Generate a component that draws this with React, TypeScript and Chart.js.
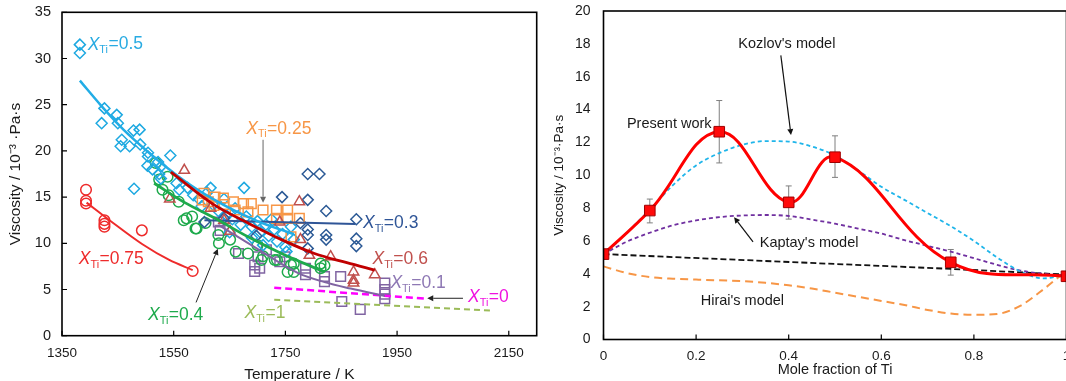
import { useEffect, useRef } from 'react';
import { Chart, registerables } from 'chart.js';

Chart.register(...registerables);

const FONT = "'Liberation Sans', Arial, Helvetica, sans-serif";
const TXT = '#1a1a1a';

// ---------------- Left panel data ----------------
const tempTicks = [1350, 1550, 1750, 1950, 2150];
const viscTicksLeft = [0, 5, 10, 15, 20, 25, 30, 35];

// X_Ti = 0.5 (diamonds)
const x050Temp = [1382, 1382, 1421, 1426, 1448, 1450, 1455, 1457, 1471, 1478, 1479, 1489, 1490, 1503, 1504, 1504, 1512, 1522, 1524, 1527, 1527, 1544, 1555, 1560, 1575, 1585, 1595, 1600, 1610, 1616, 1620, 1630, 1640, 1645, 1650, 1655, 1660, 1670, 1676, 1680, 1690, 1690, 1700, 1705, 1710, 1715, 1720, 1725, 1730, 1735, 1745, 1750, 1752, 1760, 1765];
const x050Visc = [31.5, 30.6, 23.0, 24.6, 23.9, 23.0, 20.5, 21.2, 20.5, 22.2, 15.9, 22.3, 20.7, 18.4, 19.8, 19.4, 18.0, 18.8, 17.5, 18.3, 17.0, 19.5, 16.5, 15.8, 16.0, 15.2, 14.8, 14.0, 15.5, 16.0, 14.2, 13.5, 14.8, 13.0, 11.2, 12.6, 13.8, 12.0, 16.0, 12.9, 11.8, 10.6, 12.4, 11.2, 9.8, 12.0, 10.8, 12.6, 11.5, 10.2, 11.0, 9.6, 9.1, 11.8, 10.4];
const x050FitTemp = [1382, 1420, 1460, 1500, 1540, 1580, 1620, 1660, 1700, 1740, 1765];
const x050FitVisc = [27.6, 24.9, 22.3, 20.1, 18.1, 16.3, 14.8, 13.5, 12.4, 11.5, 11.0];

// X_Ti = 0.75 (circles)
const x075Temp = [1393, 1393, 1393, 1426, 1426, 1426, 1493, 1584];
const x075Visc = [15.8, 14.6, 14.3, 12.5, 12.1, 11.8, 11.4, 7.0];
const x075FitTemp = [1394, 1435, 1494, 1542, 1584];
const x075FitVisc = [14.4, 12.5, 9.9, 8.2, 7.1];

// X_Ti = 0.4 (circles)
const x040Temp = [1518, 1524, 1530, 1539, 1541, 1559, 1568, 1573, 1583, 1589, 1591, 1607, 1630, 1631, 1651, 1661, 1683, 1700, 1707, 1710, 1731, 1735, 1754, 1760, 1765, 1765, 1813, 1813, 1820];
const x040Visc = [18.7, 16.9, 15.8, 17.2, 15.2, 14.5, 12.5, 12.7, 12.9, 11.6, 11.6, 12.2, 10.9, 10.0, 10.4, 9.1, 8.9, 9.8, 8.2, 8.6, 8.2, 8.2, 6.9, 7.65, 7.8, 6.9, 7.8, 7.3, 7.6];
const x040FitTemp = [1515, 1570, 1624, 1683, 1743, 1820];
const x040FitVisc = [16.5, 14.4, 12.7, 10.7, 8.9, 6.9];

// X_Ti = 0.6 (triangles)
const x060Temp = [1543, 1569, 1616, 1640, 1651, 1740, 1775, 1777, 1793, 1831, 1872, 1872, 1872, 1910];
const x060Visc = [14.8, 17.9, 13.8, 12.5, 11.3, 12.3, 14.5, 10.4, 8.7, 8.55, 6.9, 6.0, 5.7, 6.6];
const x060FitTemp = [1545, 1624, 1683, 1743, 1802, 1860, 1910];
const x060FitVisc = [17.7, 14.1, 12.2, 10.4, 8.9, 7.9, 7.1];

// X_Ti = 0.3 (diamonds)
const x030Temp = [1605, 1640, 1698, 1744, 1777, 1790, 1790, 1790, 1790, 1790, 1811, 1823, 1823, 1823, 1877, 1877, 1877];
const x030Visc = [12.3, 12.7, 10.8, 15.0, 12.2, 17.5, 14.7, 11.5, 10.9, 9.45, 17.5, 13.5, 10.9, 10.4, 12.6, 10.5, 9.7];
const x030FitTemp = [1605, 1875];
const x030FitVisc = [12.5, 12.1];

// X_Ti = 0.25 (squares)
const x025Temp = [1601, 1604, 1612, 1622, 1624, 1639, 1640, 1657, 1660, 1675, 1683, 1689, 1710, 1734, 1734, 1754, 1754, 1760, 1775];
const x025Visc = [14.7, 15.4, 14.5, 14.1, 15.0, 14.9, 14.2, 14.5, 13.6, 14.3, 13.4, 14.3, 13.6, 13.6, 12.7, 13.6, 12.7, 10.7, 12.7];

// X_Ti = 0.1 (squares)
const x010Temp = [1630, 1633, 1666, 1695, 1695, 1701, 1704, 1716, 1740, 1749, 1786, 1786, 1820, 1820, 1849, 1851, 1884, 1928, 1928, 1928, 1928];
const x010Visc = [12.3, 11.4, 8.9, 7.65, 6.95, 8.55, 7.3, 9.3, 8.0, 8.55, 7.3, 6.6, 6.4, 5.85, 6.4, 3.7, 2.85, 5.7, 5.0, 4.5, 4.0];
const x010FitTemp = [1630, 1700, 1772, 1820, 1867, 1928];
const x010FitVisc = [12.0, 9.4, 6.8, 5.8, 5.1, 4.3];

// X_Ti = 0 and X_Ti = 1 (dashed)
const x000Temp = [1730, 2003];
const x000Visc = [5.2, 4.0];
const x100Temp = [1730, 2122];
const x100Visc = [3.9, 2.7];

// ---------------- Right panel data ----------------
const moleTicks = [0, 0.2, 0.4, 0.6, 0.8, 1];
const viscTicksRight = [0, 2, 4, 6, 8, 10, 12, 14, 16, 18, 20];

const presentX = [0, 0.1, 0.25, 0.4, 0.5, 0.75, 1.0];
const presentV = [5.2, 7.85, 12.65, 8.35, 11.1, 4.7, 3.85];
const presentErrHigh = [5.2, 8.55, 14.55, 9.35, 12.4, 5.48, 3.85];
const presentErrLow = [5.2, 7.1, 10.75, 7.33, 9.87, 3.92, 3.85];

const modelX = [0, 0.05, 0.1, 0.15, 0.2, 0.25, 0.3, 0.35, 0.4, 0.45, 0.5, 0.55, 0.6, 0.65, 0.7, 0.75, 0.8, 0.85, 0.9, 0.95, 1.0];
const kozlovV = [5.1, 6.5, 7.9, 9.4, 10.6, 11.35, 11.85, 12.08, 12.05, 11.75, 11.2, 10.3, 9.3, 8.5, 7.7, 6.9, 6.0, 5.0, 4.15, 3.72, 3.95];
const kaptayV = [5.2, 5.95, 6.5, 6.95, 7.25, 7.45, 7.55, 7.58, 7.52, 7.3, 7.05, 6.75, 6.45, 6.05, 5.7, 5.35, 4.95, 4.55, 4.2, 4.0, 3.9];
const hiraiV = [4.45, 4.05, 3.8, 3.7, 3.65, 3.6, 3.55, 3.45, 3.3, 3.1, 2.85, 2.6, 2.35, 2.1, 1.8, 1.58, 1.5, 1.55, 2.05, 3.05, 4.2];
const idealX = [0, 0.25, 0.5, 0.75, 1.0];
const idealV = [5.2, 4.9, 4.6, 4.3, 3.95];

// ---------------- helpers ----------------
const pts = (xs: number[], ys: number[]) => xs.map((x, i) => ({ x, y: ys[i] }));

const markers = (data: any[], style: string, color: string, r: number) => ({
  data,
  showLine: false,
  pointStyle: style,
  pointRadius: r,
  pointBorderColor: color,
  pointBackgroundColor: 'rgba(0,0,0,0)',
  pointBorderWidth: 1.5,
  borderColor: color,
  backgroundColor: 'rgba(0,0,0,0)',
});

const fit = (data: any[], color: string, width: number, dash: number[] = [], tension = 0.4, mono = false) => ({
  data,
  showLine: true,
  pointRadius: 0,
  borderColor: color,
  backgroundColor: color,
  borderWidth: width,
  borderDash: dash,
  tension,
  cubicInterpolationMode: mono ? 'monotone' : 'default',
  fill: false,
});

function drawXTi(ctx: CanvasRenderingContext2D, x: number, y: number, val: string, color: string, size: number) {
  ctx.save();
  ctx.fillStyle = color;
  ctx.textBaseline = 'middle';
  ctx.textAlign = 'left';
  ctx.font = `italic ${size}px ${FONT}`;
  ctx.fillText('X', x, y);
  let cx = x + ctx.measureText('X').width;
  const sub = size * 0.62;
  ctx.font = `${sub}px ${FONT}`;
  ctx.fillText('Ti', cx, y + size * 0.33);
  cx += ctx.measureText('Ti').width + 0.5;
  ctx.font = `${size}px ${FONT}`;
  ctx.fillText('=' + val, cx, y);
  ctx.restore();
}

function drawArrow(ctx: CanvasRenderingContext2D, x1: number, y1: number, x2: number, y2: number, color: string, width: number) {
  ctx.save();
  ctx.strokeStyle = color;
  ctx.fillStyle = color;
  ctx.lineWidth = width;
  const a = Math.atan2(y2 - y1, x2 - x1);
  const hl = 6;
  const hw = 3;
  const bx = x2 - hl * Math.cos(a);
  const by = y2 - hl * Math.sin(a);
  ctx.beginPath();
  ctx.moveTo(x1, y1);
  ctx.lineTo(bx, by);
  ctx.stroke();
  ctx.beginPath();
  ctx.moveTo(x2, y2);
  ctx.lineTo(bx + hw * Math.sin(a), by - hw * Math.cos(a));
  ctx.lineTo(bx - hw * Math.sin(a), by + hw * Math.cos(a));
  ctx.closePath();
  ctx.fill();
  ctx.restore();
}

function drawFrame(chart: any, xTicks: number[], yTicks: number[]) {
  const { ctx, chartArea: a, scales } = chart;
  ctx.save();
  ctx.strokeStyle = '#000';
  ctx.lineWidth = 1.6;
  ctx.strokeRect(a.left, a.top, a.right - a.left, a.bottom - a.top);
  ctx.lineWidth = 1.2;
  ctx.beginPath();
  xTicks.forEach((v) => {
    const px = scales.x.getPixelForValue(v);
    ctx.moveTo(px, a.bottom);
    ctx.lineTo(px, a.bottom - 5);
  });
  yTicks.forEach((v) => {
    const py = scales.y.getPixelForValue(v);
    ctx.moveTo(a.left, py);
    ctx.lineTo(a.left + 5, py);
  });
  ctx.stroke();
  ctx.restore();
}

const fixAxis = (w?: number, h?: number) => (s: any) => {
  if (w !== undefined) s.width = w;
  if (h !== undefined) s.height = h;
  s.paddingTop = 0;
  s.paddingBottom = 0;
  s.paddingLeft = 0;
  s.paddingRight = 0;
};

// annotation settings (data coordinates)
const leftLabels = [
  { val: '0.5', t: 1396, v: 31.5, color: '#29ABE2' },
  { val: '0.25', t: 1680, v: 22.4, color: '#F79646' },
  { val: '0.3', t: 1889, v: 12.2, color: '#2F5597' },
  { val: '0.6', t: 1906, v: 8.3, color: '#C0504D' },
  { val: '0.1', t: 1938, v: 5.7, color: '#8E78B4' },
  { val: '0', t: 2077, v: 4.2, color: '#F012E0' },
  { val: '1', t: 1677, v: 2.4, color: '#9BBB59' },
  { val: '0.4', t: 1504, v: 2.2, color: '#1EAA4C' },
  { val: '0.75', t: 1380, v: 8.3, color: '#EE2B2B' },
];
const leftArrows = [
  { t1: 1710, v1: 21.2, t2: 1710, v2: 14.4, color: '#666' },
  { t1: 1590, v1: 3.6, t2: 1629, v2: 9.4, color: '#222' },
  { t1: 2068, v1: 4.05, t2: 2004, v2: 4.05, color: '#222' },
];

const rightTexts = [
  { text: "Kozlov's model", x: 0.396, v: 18.0 },
  { text: 'Present work', x: 0.142, v: 13.1 },
  { text: "Kaptay's model", x: 0.444, v: 5.85 },
  { text: "Hirai's model", x: 0.3, v: 2.36 },
];
const rightArrows = [
  { x1: 0.383, v1: 17.3, x2: 0.405, v2: 12.45 },
  { x1: 0.323, v1: 5.95, x2: 0.282, v2: 7.45 },
];

export default function App() {
  const leftRef = useRef<HTMLCanvasElement | null>(null);
  const rightRef = useRef<HTMLCanvasElement | null>(null);

  useEffect(() => {
    const leftDecor = {
      id: 'leftDecor',
      afterDatasetsDraw(chart: any) {
        const { ctx, scales } = chart;
        drawFrame(chart, tempTicks, viscTicksLeft);
        leftArrows.forEach((a) =>
          drawArrow(ctx, scales.x.getPixelForValue(a.t1), scales.y.getPixelForValue(a.v1), scales.x.getPixelForValue(a.t2), scales.y.getPixelForValue(a.v2), a.color, 1)
        );
        leftLabels.forEach((l) => drawXTi(ctx, scales.x.getPixelForValue(l.t), scales.y.getPixelForValue(l.v), l.val, l.color, 17.5));
      },
    };

    const left = new Chart(leftRef.current as HTMLCanvasElement, {
      type: 'scatter',
      data: {
        datasets: [
          fit(pts(x060FitTemp, x060FitVisc), '#C00000', 2.8, [], 0.4, true),
          fit(pts(x040FitTemp, x040FitVisc), '#1EAA4C', 2.8, [], 0.4, true),
          fit(pts(x050FitTemp, x050FitVisc), '#22ADE6', 2.5, [], 0.4, true),
          fit(pts(x075FitTemp, x075FitVisc), '#EE2B2B', 2, [], 0.4, true),
          fit(pts(x030FitTemp, x030FitVisc), '#2F5597', 2, [], 0),
          fit(pts(x010FitTemp, x010FitVisc), '#8064A2', 2, [], 0.4, true),
          fit(pts(x000Temp, x000Visc), '#FF00FF', 2.5, [7, 4], 0),
          fit(pts(x100Temp, x100Visc), '#9BBB59', 2, [6, 4], 0),
          markers(pts(x060Temp, x060Visc), 'triangle', '#C0504D', 6),
          markers(pts(x025Temp, x025Visc), 'rect', '#F79646', 6.8),
          markers(pts(x030Temp, x030Visc), 'rectRot', '#2C5A96', 5.5),
          markers(pts(x050Temp, x050Visc), 'rectRot', '#1EA9E1', 5.5),
          markers(pts(x040Temp, x040Visc), 'circle', '#1EAA4C', 5.3),
          markers(pts(x010Temp, x010Visc), 'rect', '#8064A2', 6.8),
          markers(pts(x075Temp, x075Visc), 'circle', '#EE2B2B', 5.3),
        ] as any,
      },
      options: {
        animation: false,
        responsive: false,
        devicePixelRatio: 1,
        events: [],
        layout: { padding: { top: 12.3, right: 3.3, left: 0, bottom: 0 } },
        plugins: { legend: { display: false }, tooltip: { enabled: false } },
        scales: {
          x: {
            type: 'linear',
            min: 1350,
            max: 2200,
            afterBuildTicks: (s: any) => {
              s.ticks = tempTicks.map((v) => ({ value: v }));
            },
            afterFit: fixAxis(undefined, 48.3),
            grid: { display: false, drawTicks: false },
            border: { display: false },
            ticks: { font: { family: FONT, size: 13.5 }, color: TXT, padding: 9, maxRotation: 0, autoSkip: false, callback: (v: any) => String(v) },
            title: { display: true, text: 'Temperature / K', font: { family: FONT, size: 15.5 }, color: TXT, padding: { top: 0, bottom: 0 } },
          },
          y: {
            type: 'linear',
            min: 0,
            max: 35,
            afterBuildTicks: (s: any) => {
              s.ticks = viscTicksLeft.map((v) => ({ value: v }));
            },
            afterFit: fixAxis(62, undefined),
            grid: { display: false, drawTicks: false },
            border: { display: false },
            ticks: { font: { family: FONT, size: 14.5 }, color: TXT, padding: 11, callback: (v: any) => String(v) },
            title: { display: true, text: 'Viscosity / 10⁻³ ·Pa·s', font: { family: FONT, size: 15.5 }, color: TXT, padding: { top: 6, bottom: 0 } },
          },
        },
      } as any,
      plugins: [leftDecor],
    });

    const rightDecor = {
      id: 'rightDecor',
      beforeDatasetsDraw(chart: any) {
        const { ctx, scales } = chart;
        ctx.save();
        ctx.strokeStyle = '#7F7F7F';
        ctx.lineWidth = 1;
        presentX.forEach((x, i) => {
          if (presentErrHigh[i] === presentErrLow[i]) return;
          const px = scales.x.getPixelForValue(x);
          const pt = scales.y.getPixelForValue(presentErrHigh[i]);
          const pb = scales.y.getPixelForValue(presentErrLow[i]);
          ctx.beginPath();
          ctx.moveTo(px, pt);
          ctx.lineTo(px, pb);
          ctx.moveTo(px - 3, pt);
          ctx.lineTo(px + 3, pt);
          ctx.moveTo(px - 3, pb);
          ctx.lineTo(px + 3, pb);
          ctx.stroke();
        });
        ctx.restore();
      },
      afterDatasetsDraw(chart: any) {
        const { ctx, scales } = chart;
        drawFrame(chart, moleTicks, []);
        rightArrows.forEach((a) =>
          drawArrow(ctx, scales.x.getPixelForValue(a.x1), scales.y.getPixelForValue(a.v1), scales.x.getPixelForValue(a.x2), scales.y.getPixelForValue(a.v2), '#111', 1.2)
        );
        ctx.save();
        ctx.fillStyle = TXT;
        ctx.font = `14.5px ${FONT}`;
        ctx.textAlign = 'center';
        ctx.textBaseline = 'middle';
        rightTexts.forEach((t) => ctx.fillText(t.text, scales.x.getPixelForValue(t.x), scales.y.getPixelForValue(t.v)));
        ctx.restore();
      },
    };

    const right = new Chart(rightRef.current as HTMLCanvasElement, {
      type: 'scatter',
      data: {
        datasets: [
          {
            data: pts(presentX, presentV),
            showLine: false,
            pointStyle: 'rect',
            pointRadius: 7.5,
            pointBackgroundColor: '#FF0A0A',
            pointBorderColor: '#A00000',
            pointBorderWidth: 1,
          },
          fit(pts(presentX, presentV), '#FF0000', 3, [], 0.4),
          fit(pts(modelX, kozlovV), '#1FB5EA', 1.8, [4, 3], 0.4, true),
          fit(pts(modelX, kaptayV), '#7030A0', 1.8, [4, 3], 0.4, true),
          fit(pts(idealX, idealV), '#111111', 1.8, [6, 3], 0),
          fit(pts(modelX, hiraiV), '#F79646', 2, [8, 5], 0.4, true),
        ] as any,
      },
      options: {
        animation: false,
        responsive: false,
        devicePixelRatio: 1,
        events: [],
        layout: { padding: { top: 11, right: 6.5, left: 0, bottom: 0 } },
        plugins: { legend: { display: false }, tooltip: { enabled: false } },
        scales: {
          x: {
            type: 'linear',
            min: 0,
            max: 1,
            afterBuildTicks: (s: any) => {
              s.ticks = moleTicks.map((v) => ({ value: v }));
            },
            afterFit: fixAxis(undefined, 44.5),
            grid: { display: false, drawTicks: false },
            border: { display: false },
            ticks: { font: { family: FONT, size: 13.5 }, color: TXT, padding: 9, maxRotation: 0, autoSkip: false, callback: (v: any) => String(Math.round(Number(v) * 10) / 10) },
            title: { display: true, text: 'Mole fraction of Ti', font: { family: FONT, size: 14.5 }, color: TXT, padding: { top: 0, bottom: 5.3 } },
          },
          y: {
            type: 'linear',
            min: 0,
            max: 20,
            afterBuildTicks: (s: any) => {
              s.ticks = viscTicksRight.map((v) => ({ value: v }));
            },
            afterFit: fixAxis(58.5, undefined),
            grid: { display: false, drawTicks: false },
            border: { display: false },
            ticks: { font: { family: FONT, size: 14 }, color: TXT, padding: 13, callback: (v: any) => String(v) },
            title: { display: true, text: 'Viscosity / 10⁻³·Pa·s', font: { family: FONT, size: 13.5 }, color: TXT, padding: { top: 6, bottom: 0 } },
          },
        },
      } as any,
      plugins: [rightDecor],
    });

    return () => {
      left.destroy();
      right.destroy();
    };
  }, []);

  return (
    <div style={{ position: 'fixed', left: 0, top: 0, width: 1066, height: 381, overflow: 'hidden', background: '#fff' }}>
      <canvas ref={leftRef} width={545} height={384} style={{ position: 'absolute', left: 0, top: 0, display: 'block' }} />
      <canvas ref={rightRef} width={530} height={384} style={{ position: 'absolute', left: 545, top: 0, display: 'block' }} />
    </div>
  );
}
